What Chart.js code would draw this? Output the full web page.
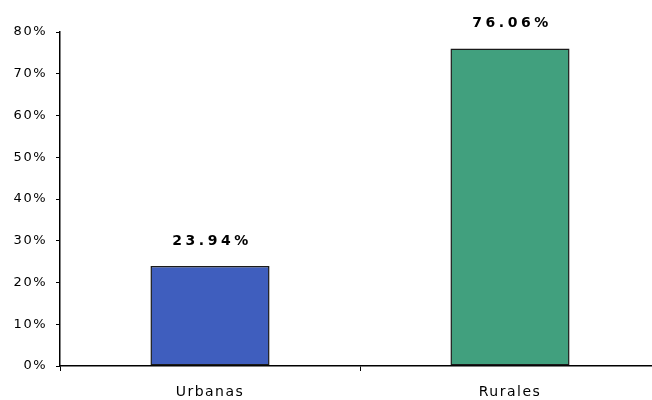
<!DOCTYPE html>
<html>
<head>
<meta charset="utf-8">
<script src="https://cdn.jsdelivr.net/npm/chart.js@4/dist/chart.umd.min.js"></script>
<style>
  html, body { margin: 0; padding: 0; background: #fff; overflow: hidden; }
  #wrap { width: 652px; height: 400px; overflow: hidden; }
  #c { display: block; }
</style>
</head>
<body>
<div id="wrap"><canvas id="c" width="660" height="400"></canvas></div>
<script>
// Population share by area type
const categories = ['Urbanas', 'Rurales'];
const shares = [23.94, 76.06];
const barColors = ['#3F5EBE', '#41A07E'];
const yTicks = [0, 10, 20, 30, 40, 50, 60, 70, 80];

const FONT = '"DejaVu Sans", "Liberation Sans", Arial, sans-serif';

// Wider glyph spacing for all canvas text
const spacingPlugin = {
  id: 'spacing',
  beforeLayout(chart) { chart.ctx.letterSpacing = '1.5px'; },
  beforeDraw(chart) { chart.ctx.letterSpacing = '1.5px'; }
};

// Value labels above each bar
const valueLabels = {
  id: 'valueLabels',
  afterDatasetsDraw(chart) {
    const ctx = chart.ctx;
    const meta = chart.getDatasetMeta(0);
    ctx.save();
    ctx.letterSpacing = '3.5px';
    ctx.font = 'bold 14px ' + FONT;
    ctx.fillStyle = '#000';
    ctx.textAlign = 'center';
    ctx.textBaseline = 'middle';
    meta.data.forEach((bar, i) => {
      const txt = shares[i].toFixed(2) + '%';
      ctx.fillText(txt, bar.x + 2, bar.y - 25);
    });
    ctx.restore();
  }
};

new Chart(document.getElementById('c'), {
  type: 'bar',
  data: {
    labels: categories,
    datasets: [{
      data: shares,
      backgroundColor: barColors,
      borderColor: '#1a1a1a',
      borderWidth: 1.5,
      borderSkipped: false,
      barPercentage: 0.397,
      categoryPercentage: 1.0
    }]
  },
  options: {
    responsive: false,
    animation: false,
    layout: { padding: { top: 32, right: 0, left: 0, bottom: 0 } },
    plugins: { legend: { display: false }, tooltip: { enabled: false } },
    scales: {
      x: {
        offset: true,
        grid: { display: true, offset: true, drawOnChartArea: false, color: '#000', tickLength: 5 },
        border: { display: true, color: '#000', width: 1.5 },
        ticks: { color: '#000', padding: 13, font: { family: FONT, size: 14 } },
        afterFit(scale) { scale.height = 34; }
      },
      y: {
        min: 0,
        max: 80,
        afterBuildTicks(scale) { scale.ticks = yTicks.map(v => ({ value: v })); },
        grid: { display: true, drawOnChartArea: false, color: '#000', tickLength: 4 },
        border: { display: true, color: '#000', width: 1.5 },
        ticks: {
          color: '#000',
          padding: 9,
          font: { family: FONT, size: 13 },
          callback: v => v + '%'
        },
        afterFit(scale) { scale.width = 60; }
      }
    }
  },
  plugins: [spacingPlugin, valueLabels]
});
</script>
</body>
</html>
